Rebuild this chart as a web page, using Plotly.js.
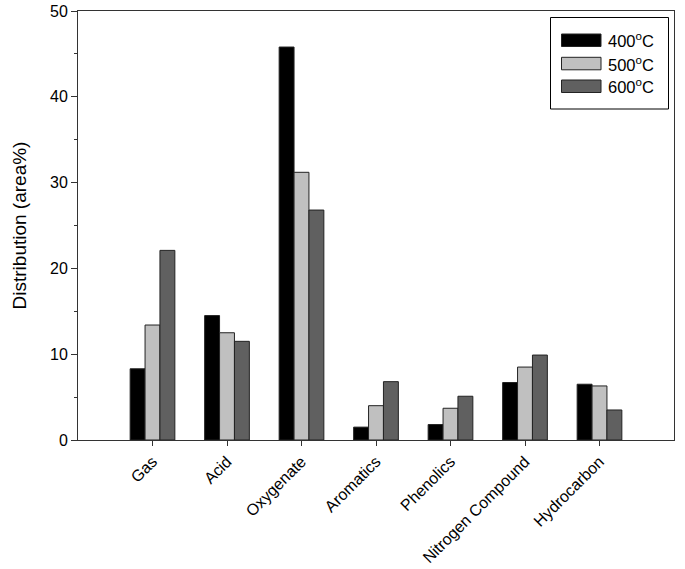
<!DOCTYPE html>
<html>
<head>
<meta charset="utf-8">
<script src="https://cdn.plot.ly/plotly-3.0.1.min.js"></script>
<style>html,body{margin:0;padding:0;background:#fff;}#chart{width:685px;height:569px;}</style>
</head>
<body>
<div id="chart"></div>
<script>
const categories = ["Gas", "Acid", "Oxygenate", "Aromatics", "Phenolics", "Nitrogen Compound", "Hydrocarbon"];
const seriesNames = ["400<sup>o</sup>C", "500<sup>o</sup>C", "600<sup>o</sup>C"];
const values400 = [8.3, 14.5, 45.8, 1.5, 1.8, 6.7, 6.5];
const values500 = [13.4, 12.5, 31.2, 4.0, 3.7, 8.5, 6.3];
const values600 = [22.1, 11.5, 26.8, 6.8, 5.1, 9.9, 3.5];
const colors = ["#000000", "#c0c0c0", "#606060"];

const allValues = [values400, values500, values600];
const traces = allValues.map((v, i) => ({
  type: "bar",
  x: categories,
  y: v,
  name: seriesNames[i],
  marker: {color: colors[i], line: {color: "#222222", width: 1}},
  showlegend: false
}));

// custom legend (box, swatches, labels) in paper coordinates
const L = 78, R = 674, T = 11, B = 440;
const px = x => (x - L) / (R - L);
const py = y => (B - y) / (B - T);
const shapes = [{
  type: "rect", xref: "paper", yref: "paper",
  x0: px(550.5), x1: px(668.5), y0: py(109), y1: py(17.5),
  line: {color: "#000", width: 1}, fillcolor: "#fff"
}];
const rowTops = [34, 57.3, 80];
const annotations = [];
rowTops.forEach((t, i) => {
  shapes.push({
    type: "rect", xref: "paper", yref: "paper",
    x0: px(561.5), x1: px(601), y0: py(t + 12.5), y1: py(t),
    line: {color: "#222", width: 1}, fillcolor: colors[i]
  });
  annotations.push({
    xref: "paper", yref: "paper", x: px(606), y: py(t + 6.5),
    xanchor: "left", yanchor: "middle", showarrow: false,
    text: seriesNames[i], font: {size: 16.5, color: "#000"}
  });
});

const layout = {
  width: 685, height: 569,
  margin: {l: L, r: 685 - R, t: T, b: 569 - B},
  paper_bgcolor: "#fff", plot_bgcolor: "#fff",
  font: {family: "Liberation Sans, Arial, sans-serif", size: 16, color: "#000"},
  barmode: "group", bargap: 0.4, bargroupgap: 0,
  xaxis: {
    range: [-1, 7], showgrid: false, zeroline: false,
    showline: true, linecolor: "#333", linewidth: 1, mirror: true,
    ticks: "outside", ticklen: 5, tickcolor: "#333", tickangle: -45,
    tickfont: {size: 16, color: "#000"}
  },
  yaxis: {
    range: [0, 50], dtick: 10, showgrid: false, zeroline: false,
    showline: true, linecolor: "#333", linewidth: 1, mirror: true,
    ticks: "outside", ticklen: 6, tickcolor: "#333",
    minor: {dtick: 5, ticks: "outside", ticklen: 3, tickcolor: "#333", showgrid: false},
    tickfont: {size: 16, color: "#000"},
    title: {text: "Distribution (area%)", font: {size: 19, color: "#000"}, standoff: 18}
  },
  shapes: shapes,
  annotations: annotations,
  showlegend: false
};

Plotly.newPlot("chart", traces, layout, {displayModeBar: false, staticPlot: true});
</script>
</body>
</html>
